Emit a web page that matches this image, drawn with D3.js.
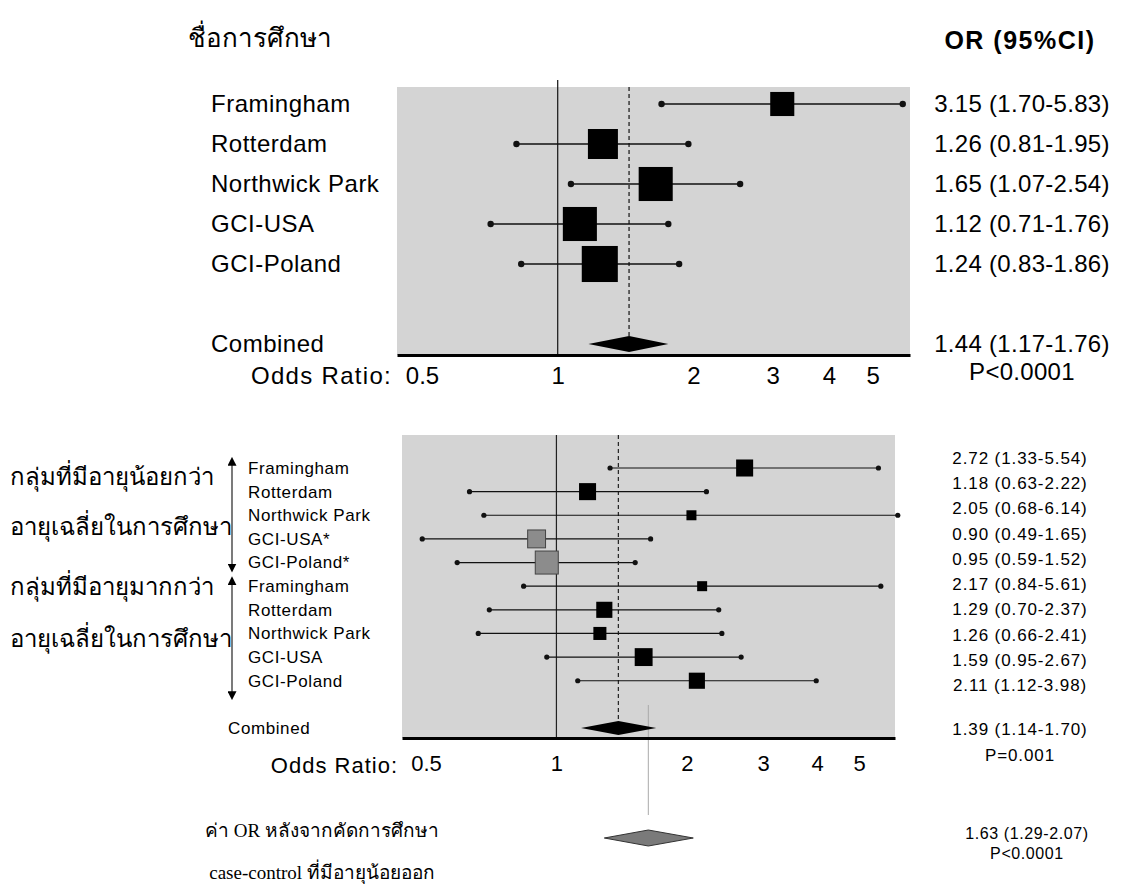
<!DOCTYPE html>
<html><head><meta charset="utf-8">
<script src="https://cdn.jsdelivr.net/npm/d3@7"></script>
<style>body{margin:0;background:#fff}</style>
</head><body>
<svg id="c" width="1124" height="891"></svg>
<script>
// ---------- data ----------
const titleText = "ชื่อการศึกษา";
const headerText = "OR (95%CI)";
const axisLabel = "Odds Ratio:";
const tickValues = [0.5, 1, 2, 3, 4, 5];

const topStudies = ["Framingham", "Rotterdam", "Northwick Park", "GCI-USA", "GCI-Poland"];
const topOR = [3.15, 1.26, 1.65, 1.12, 1.24];
const topLo = [1.70, 0.81, 1.07, 0.71, 0.83];
const topHi = [5.83, 1.95, 2.54, 1.76, 1.86];
const topWeight = [5.8, 9.0, 11.6, 11.6, 13.0];
const topCombined = {label: "Combined", or: 1.44, lo: 1.17, hi: 1.76, p: "P<0.0001"};

const botStudies = ["Framingham", "Rotterdam", "Northwick Park", "GCI-USA*", "GCI-Poland*",
                    "Framingham", "Rotterdam", "Northwick Park", "GCI-USA", "GCI-Poland"];
const botOR = [2.72, 1.18, 2.05, 0.90, 0.95, 2.17, 1.29, 1.26, 1.59, 2.11];
const botLo = [1.33, 0.63, 0.68, 0.49, 0.59, 0.84, 0.70, 0.66, 0.95, 1.12];
const botHi = [5.54, 2.22, 6.14, 1.65, 1.52, 5.61, 2.37, 2.41, 2.67, 3.98];
const botWeight = [2.9, 2.9, 1.0, 3.2, 5.3, 1.0, 2.6, 1.7, 3.2, 2.6];
const botCaseControl = [false, false, false, true, true, false, false, false, false, false];
const botCombined = {label: "Combined", or: 1.39, lo: 1.14, hi: 1.70, p: "P=0.001"};
const groupLabels = [["กลุ่มที่มีอายุน้อยกว่า", "อายุเฉลี่ยในการศึกษา"],
                     ["กลุ่มที่มีอายุมากกว่า", "อายุเฉลี่ยในการศึกษา"]];

const excluded = {or: 1.63, lo: 1.29, hi: 2.07, p: "P<0.0001"};
const excludedNote = ["ค่า OR หลังจากคัดการศึกษา", "case-control ที่มีอายุน้อยออก"];

// ---------- setup ----------
const svg = d3.select("#c");
const SANS = "Arial, 'Liberation Sans', Helvetica, sans-serif";
const SERIF = "'Liberation Serif', 'Times New Roman', 'DejaVu Serif', serif";
const fmt = v => v.toFixed(2);
const ciText = (o, l, h) => `${fmt(o)} (${fmt(l)}-${fmt(h)})`;

const xDomain = [0.44, 6.05];
const xTop = d3.scaleLog().domain(xDomain).range([397, 910]);
const xBot = d3.scaleLog().domain(xDomain).range([402, 895]);
const yTop = d3.scaleLinear().domain([0, 6]).range([104, 344]);
const yBot = d3.scaleLinear().domain([0, 11]).range([468, 728]);
const yBotText = d3.scaleLinear().domain([0, 9]).range([458, 685]);
const side = d3.scaleSqrt().domain([0, 1]).range([0, 10]);

function diamond(x, y, c, h) {
  return `M${x(c.lo)},${y}L${x(c.or)},${y - h}L${x(c.hi)},${y}L${x(c.or)},${y + h}Z`;
}

// ---------- title & header ----------
svg.append("text").attr("x", 188).attr("y", 38).attr("dy", "0.35em")
  .attr("font-family", SERIF).attr("font-size", 26).text(titleText);
svg.append("text").attr("x", 1020).attr("y", 40).attr("dy", "0.35em")
  .attr("text-anchor", "middle").attr("font-family", SANS).attr("font-weight", "bold")
  .attr("font-size", 25).attr("letter-spacing", 1.5).text(headerText);

// ---------- top panel ----------
const tTop = 87, tAxis = 355;
const gT = svg.append("g");
gT.append("rect").attr("x", xTop.range()[0]).attr("y", tTop)
  .attr("width", xTop.range()[1] - xTop.range()[0]).attr("height", tAxis - tTop)
  .attr("fill", "#d4d4d4");
gT.append("line").attr("x1", xTop(1)).attr("x2", xTop(1)).attr("y1", 80).attr("y2", tAxis)
  .attr("stroke", "#222").attr("stroke-width", 1.3);
gT.append("line").attr("x1", xTop(topCombined.or)).attr("x2", xTop(topCombined.or))
  .attr("y1", tTop).attr("y2", yTop(6) - 8)
  .attr("stroke", "#222").attr("stroke-width", 1.3).attr("stroke-dasharray", "4,3");

topStudies.forEach((s, i) => {
  const y = yTop(i);
  gT.append("line").attr("x1", xTop(topLo[i])).attr("x2", xTop(topHi[i]))
    .attr("y1", y).attr("y2", y).attr("stroke", "#111").attr("stroke-width", 1.6);
  [topLo[i], topHi[i]].forEach(v => gT.append("circle").attr("cx", xTop(v)).attr("cy", y)
    .attr("r", 3.2).attr("fill", "#111"));
  const s2 = side(topWeight[i]);
  gT.append("rect").attr("x", xTop(topOR[i]) - s2 / 2).attr("y", y - s2 / 2)
    .attr("width", s2).attr("height", s2).attr("fill", "#000");
  gT.append("text").attr("x", 211).attr("y", y).attr("dy", "0.35em")
    .attr("font-family", SANS).attr("font-size", 24).attr("letter-spacing", 0.5).text(s);
  gT.append("text").attr("x", 1022).attr("y", y).attr("dy", "0.35em").attr("text-anchor", "middle")
    .attr("font-family", SANS).attr("font-size", 24).attr("letter-spacing", 0.3)
    .text(ciText(topOR[i], topLo[i], topHi[i]));
});
gT.append("path").attr("d", diamond(xTop, yTop(6), topCombined, 8)).attr("fill", "#000");
gT.append("text").attr("x", 211).attr("y", yTop(6)).attr("dy", "0.35em")
  .attr("font-family", SANS).attr("font-size", 24).attr("letter-spacing", 0.5).text(topCombined.label);
gT.append("text").attr("x", 1022).attr("y", yTop(6)).attr("dy", "0.35em").attr("text-anchor", "middle")
  .attr("font-family", SANS).attr("font-size", 24).attr("letter-spacing", 0.3)
  .text(ciText(topCombined.or, topCombined.lo, topCombined.hi));
gT.append("text").attr("x", 1022).attr("y", 372).attr("dy", "0.35em").attr("text-anchor", "middle")
  .attr("font-family", SANS).attr("font-size", 24).attr("letter-spacing", 0.3).text(topCombined.p);

const axT = gT.append("g").attr("transform", `translate(0,${tAxis})`)
  .call(d3.axisBottom(xTop).tickValues(tickValues).tickFormat(d => String(d))
    .tickSizeInner(0).tickSizeOuter(0).tickPadding(12));
axT.select(".domain").attr("stroke", "#000").attr("stroke-width", 3);
axT.selectAll("text").attr("font-family", SANS).attr("font-size", 24).attr("fill", "#000");
gT.append("text").attr("x", 392).attr("y", 376).attr("dy", "0.35em").attr("text-anchor", "end")
  .attr("font-family", SANS).attr("font-size", 24).attr("letter-spacing", 1.3).text(axisLabel);

// ---------- bottom panel ----------
const bTop = 435, bAxis = 738;
const gB = svg.append("g");
gB.append("rect").attr("x", xBot.range()[0]).attr("y", bTop)
  .attr("width", xBot.range()[1] - xBot.range()[0]).attr("height", bAxis - bTop)
  .attr("fill", "#d4d4d4");
gB.append("line").attr("x1", xBot(1)).attr("x2", xBot(1)).attr("y1", bTop).attr("y2", bAxis)
  .attr("stroke", "#222").attr("stroke-width", 1.2);
gB.append("line").attr("x1", xBot(botCombined.or)).attr("x2", xBot(botCombined.or))
  .attr("y1", bTop).attr("y2", yBot(11) - 7)
  .attr("stroke", "#222").attr("stroke-width", 1.2).attr("stroke-dasharray", "4,3");
// thin reference line for excluded estimate
gB.append("line").attr("x1", xBot(excluded.or)).attr("x2", xBot(excluded.or))
  .attr("y1", 705).attr("y2", 815).attr("stroke", "#aaa").attr("stroke-width", 1);

botStudies.forEach((s, i) => {
  const y = yBot(i);
  gB.append("line").attr("x1", xBot(botLo[i])).attr("x2", xBot(botHi[i]))
    .attr("y1", y).attr("y2", y).attr("stroke", "#111").attr("stroke-width", 1.2);
  [botLo[i], botHi[i]].forEach(v => gB.append("circle").attr("cx", xBot(v)).attr("cy", y)
    .attr("r", 2.6).attr("fill", "#111"));
  const s2 = side(botWeight[i]);
  gB.append("rect").attr("x", xBot(botOR[i]) - s2 / 2).attr("y", y - s2 / 2)
    .attr("width", s2).attr("height", s2)
    .attr("fill", botCaseControl[i] ? "#8c8c8c" : "#000")
    .attr("stroke", botCaseControl[i] ? "#444" : "none").attr("stroke-width", 1);
  gB.append("text").attr("x", 248).attr("y", y).attr("dy", "0.35em")
    .attr("font-family", SANS).attr("font-size", 17).attr("letter-spacing", 0.6).text(s);
  gB.append("text").attr("x", 1020).attr("y", yBotText(i)).attr("dy", "0.35em").attr("text-anchor", "middle")
    .attr("font-family", SANS).attr("font-size", 17).attr("letter-spacing", 0.9)
    .text(ciText(botOR[i], botLo[i], botHi[i]));
});
gB.append("path").attr("d", diamond(xBot, yBot(11), botCombined, 7)).attr("fill", "#000");
gB.append("text").attr("x", 228).attr("y", yBot(11)).attr("dy", "0.35em")
  .attr("font-family", SANS).attr("font-size", 17).attr("letter-spacing", 0.6).text(botCombined.label);
gB.append("text").attr("x", 1020).attr("y", 729).attr("dy", "0.35em").attr("text-anchor", "middle")
  .attr("font-family", SANS).attr("font-size", 17).attr("letter-spacing", 0.9)
  .text(ciText(botCombined.or, botCombined.lo, botCombined.hi));
gB.append("text").attr("x", 1020).attr("y", 755).attr("dy", "0.35em").attr("text-anchor", "middle")
  .attr("font-family", SANS).attr("font-size", 17).attr("letter-spacing", 0.9).text(botCombined.p);

const axB = gB.append("g").attr("transform", `translate(0,${bAxis})`)
  .call(d3.axisBottom(xBot).tickValues(tickValues).tickFormat(d => String(d))
    .tickSizeInner(0).tickSizeOuter(0).tickPadding(17));
axB.select(".domain").attr("stroke", "#000").attr("stroke-width", 3);
axB.selectAll("text").attr("font-family", SANS).attr("font-size", 22).attr("fill", "#000");
gB.append("text").attr("x", 398).attr("y", 765).attr("dy", "0.35em").attr("text-anchor", "end")
  .attr("font-family", SANS).attr("font-size", 22).attr("letter-spacing", 1).text(axisLabel);

// group arrows & labels
const defs = svg.append("defs");
defs.append("marker").attr("id", "ah").attr("viewBox", "0 0 10 10").attr("refX", 5).attr("refY", 5)
  .attr("markerWidth", 9).attr("markerHeight", 9).attr("orient", "auto-start-reverse")
  .attr("markerUnits", "userSpaceOnUse")
  .append("path").attr("d", "M0,0L10,5L0,10Z").attr("fill", "#000");
const groupSpans = [[-0.45, 4.4], [4.6, 9.8]];
const groupLabelRows = [[0.35, 2.5], [5.0, 7.2]];
groupSpans.forEach((sp, g) => {
  gB.append("line").attr("x1", 232).attr("x2", 232).attr("y1", yBot(sp[0]) + 4).attr("y2", yBot(sp[1]) - 4)
    .attr("stroke", "#333").attr("stroke-width", 1.3)
    .attr("marker-start", "url(#ah)").attr("marker-end", "url(#ah)");
  groupLabels[g].forEach((t, k) => {
    gB.append("text").attr("x", 10).attr("y", yBot(groupLabelRows[g][k])).attr("dy", "0.35em")
      .attr("font-family", SERIF).attr("font-size", 24).text(t);
  });
});

// excluded estimate
gB.append("path").attr("d", diamond(xBot, 838, excluded, 8))
  .attr("fill", "#7a7a7a").attr("stroke", "#333").attr("stroke-width", 1);
gB.append("text").attr("x", 1027).attr("y", 833).attr("dy", "0.35em").attr("text-anchor", "middle")
  .attr("font-family", SANS).attr("font-size", 16).attr("letter-spacing", 0.6)
  .text(ciText(excluded.or, excluded.lo, excluded.hi));
gB.append("text").attr("x", 1027).attr("y", 853).attr("dy", "0.35em").attr("text-anchor", "middle")
  .attr("font-family", SANS).attr("font-size", 16).attr("letter-spacing", 0.6).text(excluded.p);
excludedNote.forEach((t, k) => {
  gB.append("text").attr("x", 322).attr("y", 830 + k * 42).attr("dy", "0.35em").attr("text-anchor", "middle")
    .attr("font-family", SERIF).attr("font-size", 19).text(t);
});
</script>
</body></html>
